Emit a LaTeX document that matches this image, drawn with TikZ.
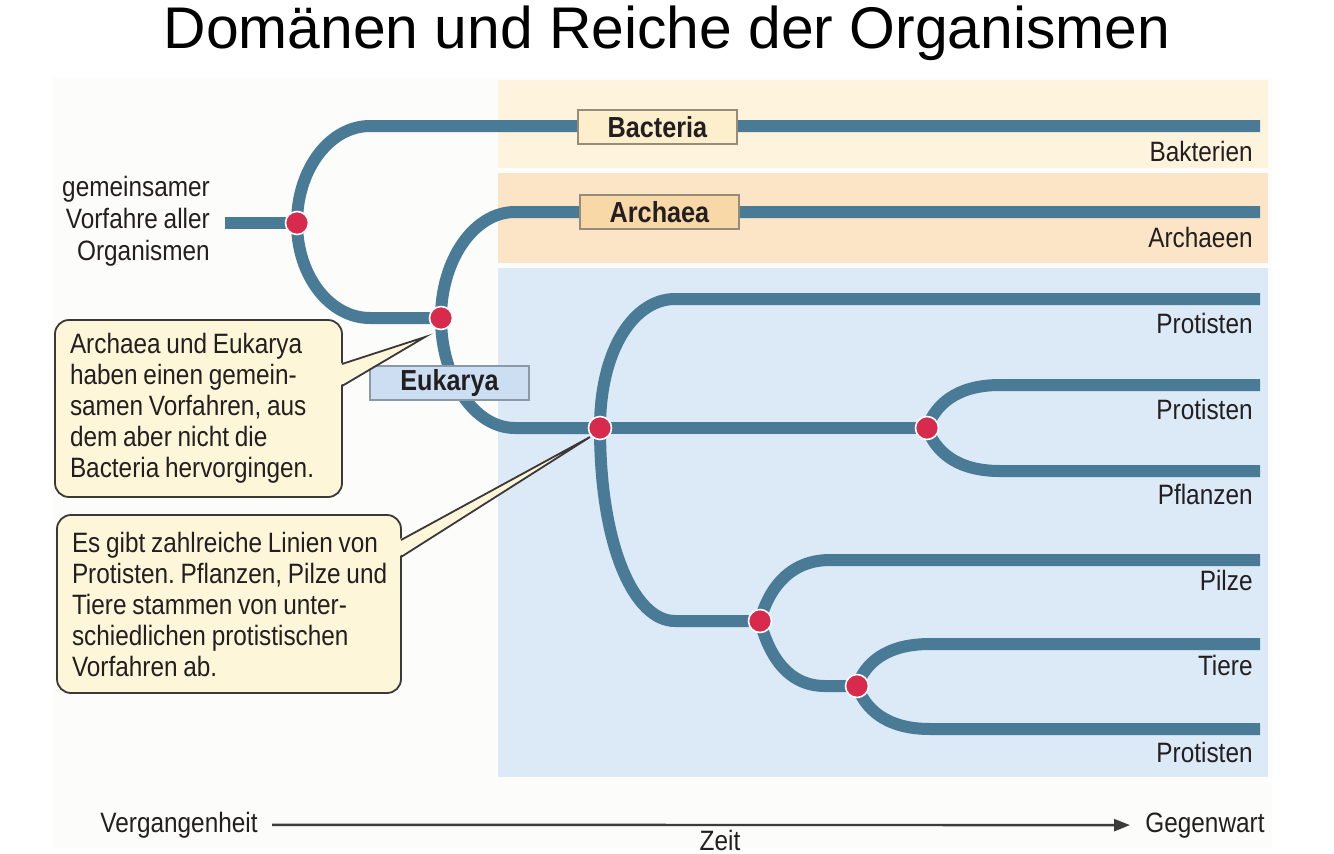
\documentclass[tikz,border=0pt]{standalone}
\usepackage{fontspec}
\setmainfont{Liberation Sans}[FakeStretch=0.87,WordSpace=0.85]
\newfontfamily\titlefont{Liberation Sans}
\usetikzlibrary{arrows.meta,calc}
\definecolor{branchc}{HTML}{4A7B96}
\definecolor{dotc}{HTML}{D82A4C}
\definecolor{textc}{HTML}{231F20}
\definecolor{panelc}{HTML}{FCFCFB}
\definecolor{bacband}{HTML}{FEF4DE}
\definecolor{arcband}{HTML}{FCE5C6}
\definecolor{eukband}{HTML}{DCE9F6}
\definecolor{bactagc}{HTML}{FDEFCC}
\definecolor{arctagc}{HTML}{F9D8A8}
\definecolor{euktagc}{HTML}{CCDFF2}
\definecolor{tagline}{HTML}{968C7C}
\definecolor{euktagline}{HTML}{8A98A8}
\definecolor{callfill}{HTML}{FEF6D9}
\definecolor{callline}{HTML}{3A3838}
\definecolor{axisc}{HTML}{3C3C3C}
\frenchspacing
\begin{document}
\begin{tikzpicture}[x=0.5pt,y=-0.5pt,
  branch/.style={draw=branchc,line width=6pt},
  dot/.style={circle,fill=dotc,draw=white,line width=0.8pt,minimum size=11.5pt,inner sep=0pt},
  tag/.style={draw=tagline,line width=0.7pt,minimum width=79.5pt,minimum height=17pt,inner sep=0pt,
    text=textc,font=\fontsize{14.5}{16}\selectfont\bfseries},
  leaf/.style={anchor=base east,inner sep=0pt,text=textc,font=\fontsize{14}{16}\selectfont},
  plain/.style={inner sep=0pt,text=textc,font=\fontsize{14}{16}\selectfont},
  callout/.style={draw=callline,line width=0.9pt,fill=callfill,rounded corners=7pt,
    align=left,inner xsep=7.5pt,inner ysep=0pt,text=textc,font=\fontsize{14}{15.5}\selectfont},
  pointer/.style={draw=callline,line width=0.9pt,line join=miter},
  axis/.style={draw=axisc,line width=1.2pt,-{Triangle[length=8pt,width=6pt]}}
]
\useasboundingbox (0,0) rectangle (1334,853);
\fill[white] (0,0) rectangle (1334,853);
\fill[panelc] (53,78) rectangle (1272,848);

% bands
\fill[bacband] (498,80) rectangle (1268,168);
\fill[arcband] (498,173) rectangle (1268,263);
\fill[eukband] (498,268) rectangle (1268,777);

% title
\node[inner sep=0pt,anchor=base,text=black,font=\titlefont\fontsize{29.4}{32}\selectfont] (title) at (667,48) {Domänen und Reiche der Organismen};

% tree coordinates
\coordinate (root) at (225,223);
\coordinate (p1) at (297,223);
\coordinate (p2) at (441,318);
\coordinate (p3) at (600,428);
\coordinate (p4) at (927,428);
\coordinate (p5) at (760,621);
\coordinate (p6) at (857,686);
\coordinate (b1a) at (370,126); \coordinate (e1) at (1260,126);
\coordinate (b1b) at (370,318);
\coordinate (b2a) at (515,212); \coordinate (e2) at (1260,212);
\coordinate (b2b) at (515,428);
\coordinate (b3a) at (675,299); \coordinate (e3) at (1260,299);
\coordinate (b3b) at (675,621);
\coordinate (b4a) at (1000,385); \coordinate (e4) at (1260,385);
\coordinate (b4b) at (1000,471); \coordinate (e5) at (1260,471);
\coordinate (b5a) at (830,560); \coordinate (e6) at (1260,560);
\coordinate (b5b) at (825,686);
\coordinate (b6a) at (930,644); \coordinate (e7) at (1260,644);
\coordinate (b6b) at (930,729); \coordinate (e8) at (1260,729);

% branches
\draw[branch] (root) -- (p1);
\draw[branch] (p1) .. controls +(0,-54) and +(-40,0) .. (b1a) -- (e1);
\draw[branch] (p1) .. controls +(0,53) and +(-40,0) .. (b1b) -- (p2);
\draw[branch] (p2) .. controls +(0,-58) and +(-41,0) .. (b2a) -- (e2);
\draw[branch] (p2) .. controls +(0,60) and +(-41,0) .. (b2b) -- (p3);
\draw[branch] (p3) .. controls +(0,-80) and +(-40,0) .. (b3a) -- (e3);
\draw[branch] (p3) -- (p4);
\draw[branch] (p3) .. controls +(0,120) and +(-40,0) .. (b3b) -- (p5);
\draw[branch] (p4) .. controls +(8,-22) and +(-45,0) .. (b4a) -- (e4);
\draw[branch] (p4) .. controls +(8,22) and +(-45,0) .. (b4b) -- (e5);
\draw[branch] (p5) .. controls +(8,-30) and +(-42,0) .. (b5a) -- (e6);
\draw[branch] (p5) .. controls +(8,30) and +(-40,0) .. (b5b) -- (p6);
\draw[branch] (p6) .. controls +(8,-22) and +(-45,0) .. (b6a) -- (e7);
\draw[branch] (p6) .. controls +(8,22) and +(-45,0) .. (b6b) -- (e8);

% dots
\foreach \i in {1,...,6} { \node[dot] (d\i) at (p\i) {}; }

% domain tags
\node[tag,fill=bactagc] (bac) at (657.5,127) {Bacteria};
\node[tag,fill=arctagc] (arc) at (659.5,212) {Archaea};
\node[tag,fill=euktagc,draw=euktagline] (euk) at (449.5,383) {Eukarya};

% leaf labels
\node[leaf] (l1) at (1253,161) {Bakterien};
\node[leaf] (l2) at (1253,247) {Archaeen};
\node[leaf] (l3) at (1253,333) {Protisten};
\node[leaf] (l4) at (1253,419) {Protisten};
\node[leaf] (l5) at (1253,504) {Pflanzen};
\node[leaf] (l6) at (1253,590) {Pilze};
\node[leaf] (l7) at (1253,675) {Tiere};
\node[leaf] (l8) at (1253,762) {Protisten};

% ancestor text
\node[plain,align=right,font=\fontsize{14}{16}\selectfont] (anc) at (136,221) {\spaceskip=0pt gemeinsamer\\Vorfahre aller\\Organismen};

% callout 1
\node[callout,minimum width=143.5pt,minimum height=88.5pt,text width=128.5pt] (c1) at (198.5,408.5)
 {\spaceskip=0pt\xspaceskip=0pt
  \mbox{Archaea und Eukarya}\\\mbox{haben einen gemein-}\\\mbox{samen Vorfahren, aus}\\\mbox{dem aber nicht die}\\\mbox{Bacteria hervorgingen.}};
\coordinate (q1a) at (342,364); \coordinate (q1b) at (342,386); \coordinate (q1t) at (425,337);
\fill[callfill] ($(q1a)+(-3,0)$) -- (q1t) -- ($(q1b)+(-3,0)$) -- cycle;
\draw[pointer] (q1a) -- (q1t) -- (q1b);

% callout 2
\node[callout,minimum width=172pt,minimum height=89pt,text width=157pt] (c2) at (229,604)
 {\spaceskip=0pt\xspaceskip=0pt
  \mbox{Es gibt zahlreiche Linien von}\\\mbox{Protisten. Pflanzen, Pilze und}\\\mbox{Tiere stammen von unter-}\\\mbox{schiedlichen protistischen}\\\mbox{Vorfahren ab.}};
\coordinate (q2a) at (401,540); \coordinate (q2b) at (401,557); \coordinate (q2t) at (590,437);
\fill[callfill] ($(q2a)+(-3,0)$) -- (q2t) -- ($(q2b)+(-3,0)$) -- cycle;
\draw[pointer] (q2a) -- (q2t) -- (q2b);

% time axis
\node[plain,anchor=base east] (past) at (258,832) {Vergangenheit};
\node[plain,anchor=base west] (now) at (1145,832) {Gegenwart};
\node[plain,anchor=base] (zeit) at (720,850) {Zeit};
\draw[axis,shorten <=7pt,shorten >=7.5pt] (past) -- (now);
\end{tikzpicture}
\end{document}
